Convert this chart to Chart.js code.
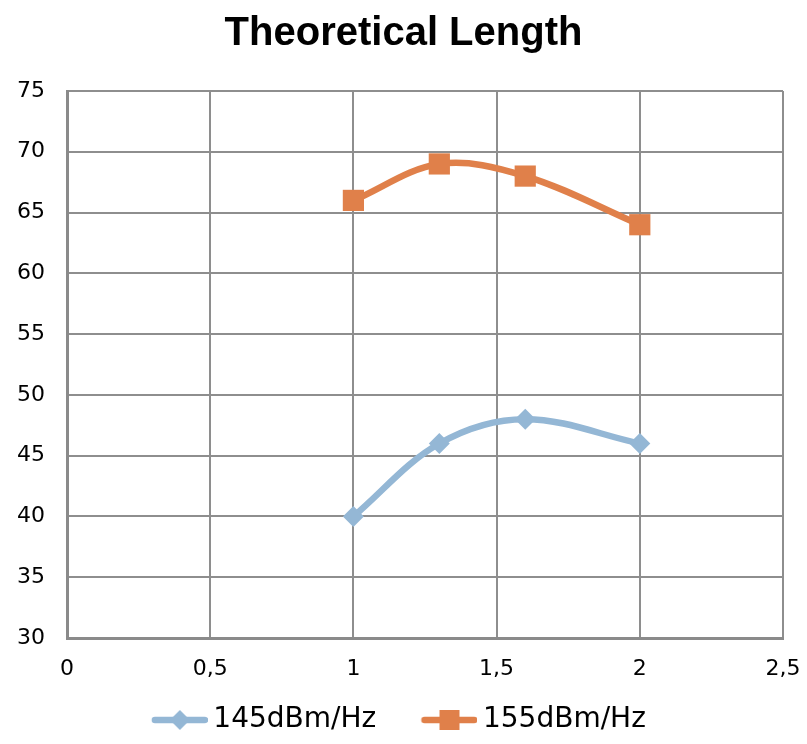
<!DOCTYPE html>
<html>
<head>
<meta charset="utf-8">
<script src="https://cdn.jsdelivr.net/npm/chart.js@4.4.1/dist/chart.umd.min.js"></script>
<style>
html,body{margin:0;padding:0;background:#fff;}
#wrap{width:807px;height:744px;position:relative;}
</style>
</head>
<body>
<div id="wrap"><canvas id="c" width="807" height="744"></canvas></div>
<script>
const TITLE = 'Theoretical Length';
const seriesNames = ['145dBm/Hz', '155dBm/Hz'];
const xValues = [1, 1.3, 1.6, 2];
const series145 = [40, 46, 48, 46];
const series155 = [66, 69, 68, 64];
const xTicks = [0, 0.5, 1, 1.5, 2, 2.5];
const yTicks = [30, 35, 40, 45, 50, 55, 60, 65, 70, 75];

const BLUE = '#94b7d5';
const ORANGE = '#e0804a';
const FONT = '"DejaVu Sans", sans-serif';
const TITLE_FONT = '"Liberation Sans", Arial, sans-serif';

// legend icon: line with marker, shifted right by K inside a centred canvas
const K = 8.5;
function legendIcon(color, shape) {
  const W = 56 + 2 * K;
  const cv = document.createElement('canvas');
  cv.width = W; cv.height = 22;
  const g = cv.getContext('2d');
  const o = 2 * K;
  g.strokeStyle = color; g.lineWidth = 6.5; g.lineCap = 'round';
  g.beginPath(); g.moveTo(o + 3, 11); g.lineTo(o + 53, 11); g.stroke();
  g.fillStyle = color;
  g.beginPath();
  if (shape === 'diamond') {
    g.moveTo(o + 28, 1); g.lineTo(o + 38, 11); g.lineTo(o + 28, 21); g.lineTo(o + 18, 11);
  } else {
    g.rect(o + 18, 1, 20, 20);
  }
  g.closePath(); g.fill();
  return cv;
}

const toPts = (xs, ys) => xs.map((x, i) => ({x: x, y: ys[i]}));

new Chart(document.getElementById('c'), {
  type: 'scatter',
  data: {
    datasets: [
      {
        label: seriesNames[0],
        data: toPts(xValues, series145),
        showLine: true,
        borderColor: BLUE, backgroundColor: BLUE,
        borderWidth: 6.5, tension: 0.35,
        pointStyle: 'rectRot', pointRadius: 10.5, pointHoverRadius: 10.5,
        pointBorderWidth: 0
      },
      {
        label: seriesNames[1],
        data: toPts(xValues, series155),
        showLine: true,
        borderColor: ORANGE, backgroundColor: ORANGE,
        borderWidth: 6.5, tension: 0.35,
        pointStyle: 'rect', pointRadius: 15, pointHoverRadius: 15,
        pointBorderWidth: 0
      }
    ]
  },
  options: {
    responsive: false,
    animation: false,
    layout: {padding: {left: 0, right: 0, top: 0, bottom: 0}},
    plugins: {
      title: {
        display: true, text: TITLE, color: '#000',
        font: {family: TITLE_FONT, size: 40, weight: 'bold'},
        padding: {top: 10, bottom: 33}
      },
      legend: {
        position: 'bottom',
        labels: {
          usePointStyle: true,
          pointStyleWidth: 56,
          color: '#000',
          font: {family: FONT, size: 28},
          padding: 10,
          generateLabels: (chart) => chart.data.datasets.map((ds, i) => ({
            text: ds.label + (i === 0 ? '   ' : '  '),
            pointStyle: legendIcon(ds.borderColor, i === 0 ? 'diamond' : 'square'),
            fillStyle: ds.borderColor, strokeStyle: ds.borderColor,
            lineWidth: 0, hidden: false, datasetIndex: i, fontColor: '#000'
          }))
        }
      },
      tooltip: {enabled: false}
    },
    scales: {
      x: {
        type: 'linear', min: 0, max: 2.5,
        afterBuildTicks: s => { s.ticks = xTicks.map(v => ({value: v})); },
        afterFit: s => { s.height = 58; s.paddingRight = 24; s.paddingLeft = 0; },
        ticks: {
          color: '#000', font: {family: FONT, size: 22}, padding: 18,
          callback: v => String(v).replace('.', ',')
        },
        grid: {color: '#8e8e8e', lineWidth: 2, drawTicks: false},
        border: {color: '#8a8a8a', width: 3}
      },
      y: {
        type: 'linear', min: 30, max: 75,
        afterBuildTicks: s => { s.ticks = yTicks.map(v => ({value: v})); },
        afterFit: s => { s.width = 67; },
        ticks: {
          color: '#000', font: {family: FONT, size: 22}, padding: 22
        },
        grid: {color: '#8e8e8e', lineWidth: 2, drawTicks: false},
        border: {color: '#8a8a8a', width: 3}
      }
    }
  }
});
</script>
</body>
</html>
